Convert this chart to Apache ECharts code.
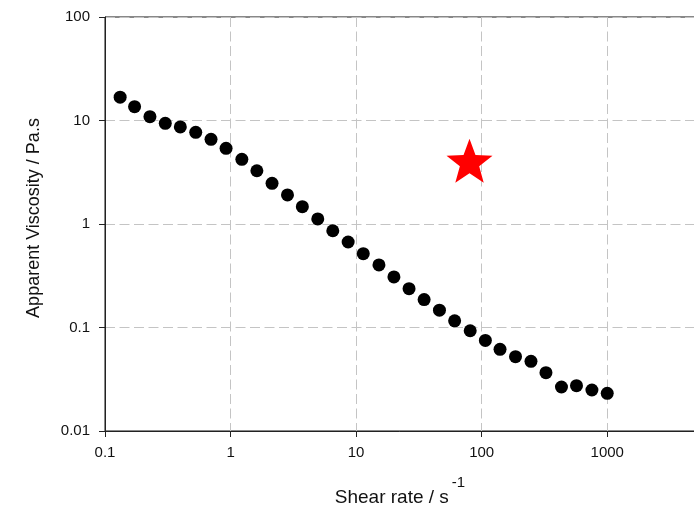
<!DOCTYPE html>
<html>
<head>
<meta charset="utf-8">
<script src="https://cdn.jsdelivr.net/npm/echarts@6/dist/echarts.min.js"></script>
<style>
  html, body { margin: 0; padding: 0; background: #ffffff; }
  #chart { width: 694px; height: 513px; }
</style>
</head>
<body>
<div id="chart"></div>
<script>
// Flow curve: apparent viscosity against shear rate (log-log)
const shearRate = [0.132, 0.172, 0.228, 0.302, 0.398, 0.528, 0.699, 0.921, 1.23, 1.62,
  2.14, 2.84, 3.73, 4.95, 6.52, 8.64, 11.4, 15.2, 20.0, 26.4,
  34.8, 46.1, 60.9, 81.0, 107, 140, 186, 247, 325, 432,
  569, 755, 1000];
const viscosity = [16.8, 13.6, 10.9, 9.4, 8.66, 7.69, 6.58, 5.39, 4.22, 3.27,
  2.47, 1.91, 1.47, 1.12, 0.861, 0.670, 0.517, 0.402, 0.308, 0.237,
  0.186, 0.147, 0.116, 0.093, 0.075, 0.0615, 0.0522, 0.0471, 0.0366, 0.0266,
  0.0274, 0.0249, 0.0231];
// Single highlighted reference point
const markerRate = [80];
const markerViscosity = [3.9];
// Decade tick labels
const xTickLabels = ['0.1', '1', '10', '100', '1000'];
const yTickLabels = ['0.01', '0.1', '1', '10', '100'];

// Regular five-pointed star used as the marker symbol
function starPath(inner) {
  const pts = [];
  for (let i = 0; i < 10; i++) {
    const r = i % 2 === 0 ? 1 : inner;
    const a = -Math.PI / 2 + i * Math.PI / 5;
    pts.push((r * Math.cos(a)).toFixed(4) + ' ' + (r * Math.sin(a)).toFixed(4));
  }
  return 'path://M' + pts.join(' L') + ' Z';
}

function decadeLabel(list) {
  return function (v) {
    const s = String(+v.toPrecision(6));
    return list.indexOf(s) >= 0 ? s : '';
  };
}

const font = '"Liberation Sans", Arial, sans-serif';
const chart = echarts.init(document.getElementById('chart'), null, { renderer: 'canvas' });

chart.setOption({
  animation: false,
  backgroundColor: '#ffffff',
  grid: {
    left: 105, top: 17, width: 590, height: 414,
    outerBoundsMode: 'none', containLabel: false,
    show: true, borderColor: '#111111', borderWidth: 1, backgroundColor: 'transparent'
  },
  xAxis: {
    type: 'log', logBase: 10, min: 0.1, max: 5000,
    name: '{a|Shear rate / s}{b|-1}',
    nameLocation: 'middle', nameGap: 56,
    nameTextStyle: {
      rich: {
        a: { fontFamily: font, fontSize: 19, color: '#111111', lineHeight: 21 },
        b: { fontFamily: font, fontSize: 15, color: '#111111', lineHeight: 15, padding: [0, 0, 29, 3] }
      }
    },
    axisLine: { show: true, lineStyle: { color: '#222222', width: 1 } },
    axisTick: { show: true, length: 6, inside: false, lineStyle: { color: '#222222', width: 1 } },
    minorTick: { show: false },
    axisLabel: {
      formatter: decadeLabel(xTickLabels), margin: 14,
      fontFamily: font, fontSize: 15, color: '#111111', showMaxLabel: false
    },
    splitLine: { show: true, lineStyle: { color: '#c4c4c4', width: 1, type: [10, 4.5] } }
  },
  yAxis: {
    type: 'log', logBase: 10, min: 0.01, max: 100,
    name: 'Apparent Viscosity / Pa.s',
    nameLocation: 'middle', nameGap: 62, nameRotate: 90,
    nameTextStyle: { fontFamily: font, fontSize: 18, color: '#111111', padding: [0, 0, 0, 12] },
    axisLine: { show: true, lineStyle: { color: '#222222', width: 1 } },
    axisTick: { show: true, length: 6, inside: false, lineStyle: { color: '#222222', width: 1 } },
    axisLabel: {
      formatter: decadeLabel(yTickLabels), margin: 15,
      fontFamily: font, fontSize: 15, color: '#111111'
    },
    splitLine: { show: true, lineStyle: { color: '#c4c4c4', width: 1, type: [10, 4.5] } }
  },
  series: [
    {
      type: 'scatter',
      data: shearRate.map((x, i) => [x, viscosity[i]]),
      symbol: 'circle', symbolSize: 13,
      itemStyle: { color: '#000000', opacity: 1 },
      z: 3
    },
    {
      type: 'scatter',
      data: markerRate.map((x, i) => [x, markerViscosity[i]]),
      symbol: starPath(0.42), symbolSize: [46, 44], symbolOffset: [0, -2],
      symbolKeepAspect: false,
      itemStyle: { color: '#ff0000', opacity: 1 },
      z: 4
    }
  ]
});
</script>
</body>
</html>
